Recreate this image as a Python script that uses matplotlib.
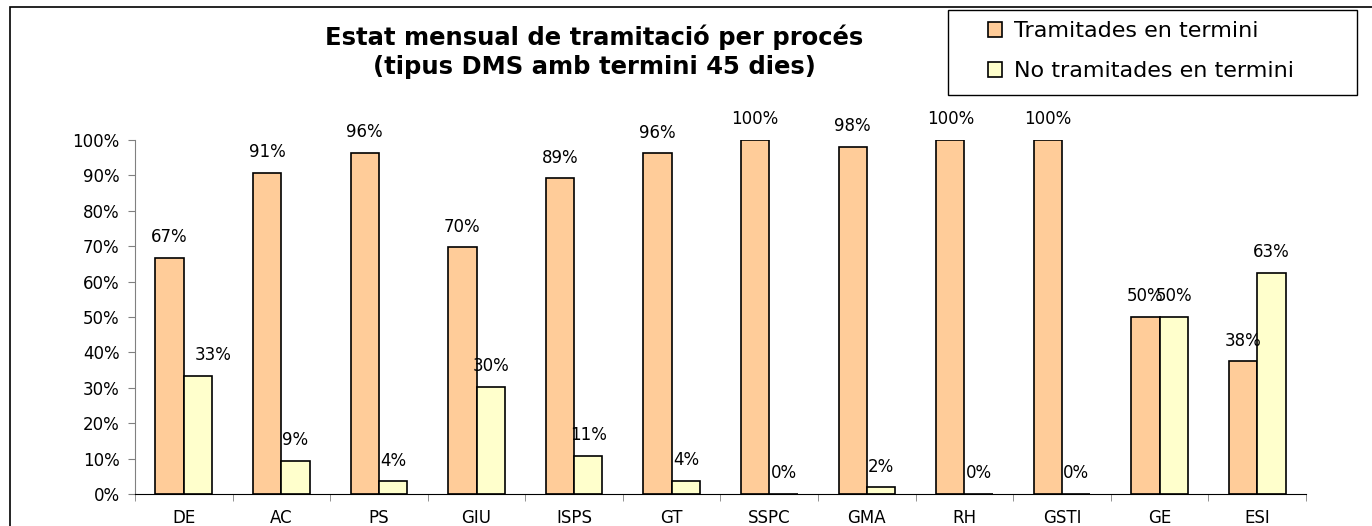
import numpy as np
import matplotlib.pyplot as plt
from matplotlib.patches import Rectangle

plt.rcParams['font.family'] = ['DejaVu Sans']

# Dades
processos = ['DE', 'AC', 'PS', 'GIU', 'ISPS', 'GT', 'SSPC', 'GMA', 'RH', 'GSTI', 'GE', 'ESI']
tramitades = [66.7, 90.7, 96.4, 69.7, 89.2, 96.2, 100, 98.1, 100, 100, 50, 37.5]
no_tramitades = [33.3, 9.3, 3.6, 30.3, 10.8, 3.8, 0, 1.9, 0, 0, 50, 62.5]

fig = plt.figure(figsize=(13.72, 5.26), dpi=100)
ax = fig.add_axes([135/1372, 1-494/526, (1306-135)/1372, (494-140)/526])

# marc exterior
fig.patches.append(Rectangle((10/1372, -0.1), 1.1, 1.1-7/526, transform=fig.transFigure,
                             fill=False, edgecolor='black', linewidth=1.2))

x = np.arange(len(processos))
w = 0.29
ax.bar(x - w/2, tramitades, w, color='#FFCC99', edgecolor='black', linewidth=1.2,
       label='Tramitades en termini')
ax.bar(x + w/2, no_tramitades, w, color='#FFFFCC', edgecolor='black', linewidth=1.2,
       label='No tramitades en termini')

for xi, v in zip(x, tramitades):
    ax.text(xi - w/2, v + 3.3, '%d%%' % round(v), ha='center', va='bottom', fontsize=12)
for i, (xi, v) in enumerate(zip(x, no_tramitades)):
    dx = 0.16 if i == 0 else 0
    ax.text(xi + w/2 + dx, v + 3.3, '%d%%' % round(v + 0.01),
            ha='center', va='bottom', fontsize=12)

ax.set_ylim(0, 100)
ax.set_xlim(-0.5, len(processos) - 0.5)
ax.set_yticks(np.arange(0, 101, 10))
ax.set_yticklabels(['%d%%' % t for t in range(0, 101, 10)], fontsize=12)
ax.set_xticks(x)
ax.set_xticklabels(processos, fontsize=12)
ax.set_xticks(np.arange(-0.5, len(processos)), minor=True)
ax.tick_params(axis='x', which='major', length=0, pad=11)
ax.tick_params(axis='x', which='minor', length=5, color='#808080', direction='out')
ax.tick_params(axis='y', length=5, color='#808080', direction='out', pad=6)
for s in ['top', 'right']:
    ax.spines[s].set_visible(False)
ax.spines['left'].set_color('#808080')
ax.spines['bottom'].set_color('black')

fig.text(594/1372, 1-37/526, 'Estat mensual de tramitació per procés', ha='center', va='center',
         fontsize=17.5, fontweight='bold')
fig.text(594/1372, 1-67/526, '(tipus DMS amb termini 45 dies)', ha='center', va='center',
         fontsize=17.5, fontweight='bold')

# llegenda: marc a part
fig.patches.append(Rectangle((948/1372, 1-95/526), 409/1372, 85/526, transform=fig.transFigure,
                             fill=False, edgecolor='black', linewidth=1.0))
leg = fig.legend(loc='upper left', bbox_to_anchor=(988/1372, 1-21/526), borderaxespad=0,
                 borderpad=0, fontsize=16, frameon=False, handlelength=0.65,
                 handleheight=0.65, labelspacing=0.9, handletextpad=0.5)

fig.savefig('out.png', dpi=100)
